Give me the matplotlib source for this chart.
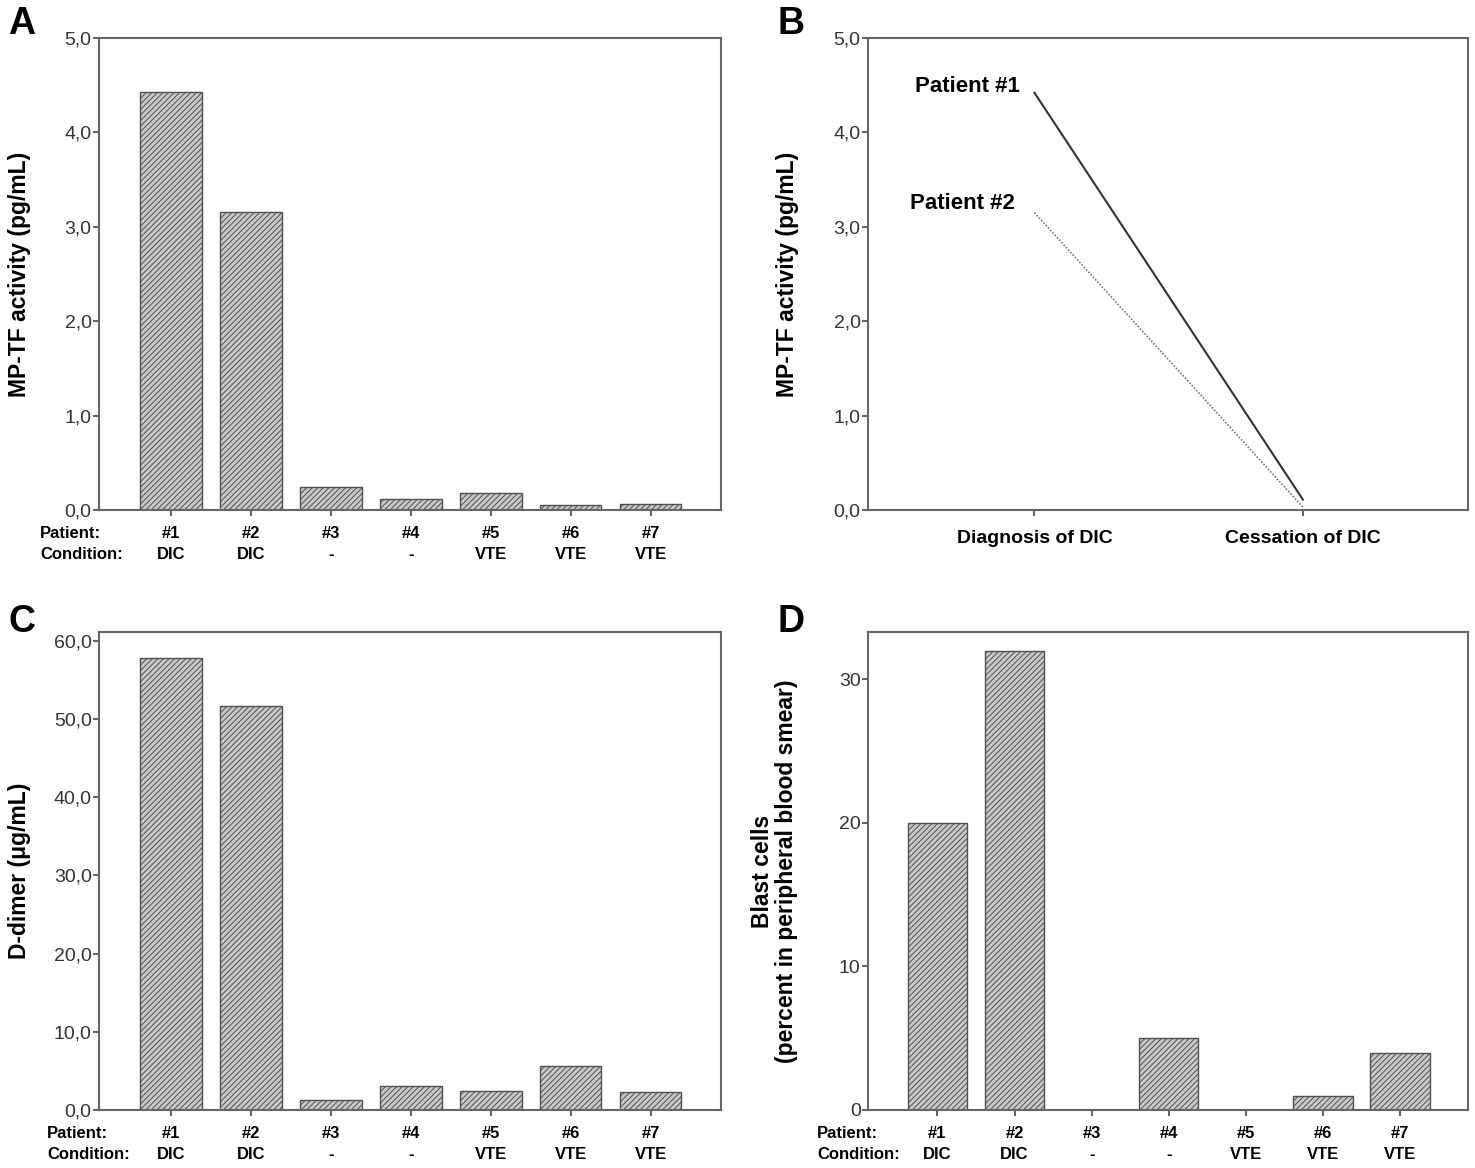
import matplotlib
matplotlib.use("Agg")
import matplotlib.pyplot as plt
from matplotlib.ticker import FuncFormatter

plt.rcParams['font.family'] = ['Liberation Sans', 'DejaVu Sans']
plt.rcParams['hatch.linewidth'] = 0.7

# data
patients = ['#1', '#2', '#3', '#4', '#5', '#6', '#7']
conditions = ['DIC', 'DIC', '-', '-', 'VTE', 'VTE', 'VTE']
mptf = [4.43, 3.16, 0.24, 0.12, 0.18, 0.05, 0.06]
ddimer = [57.8, 51.7, 1.3, 3.1, 2.4, 5.6, 2.3]
blasts = [20.0, 32.0, 0.0, 5.0, 0.0, 1.0, 4.0]
timepoints = ['Diagnosis of DIC', 'Cessation of DIC']
patient1_course = [4.42, 0.11]
patient2_course = [3.15, 0.03]

spine_col = '#666666'
tick_col = '#333333'
bar_face = '#c8c8c8'
bar_edge = '#505050'

fig = plt.figure(figsize=(14.75, 11.68), dpi=100)
W, H = 1475, 1168


def px_axes(l, t, r, b):
    return fig.add_axes([l / W, (H - b) / H, (r - l) / W, (b - t) / H])


axA = px_axes(99, 38, 721, 510)
axB = px_axes(868, 38, 1468, 510)
axC = px_axes(99, 632, 721, 1110)
axD = px_axes(868, 632, 1468, 1110)


def style(ax):
    for s in ax.spines.values():
        s.set_color(spine_col)
        s.set_linewidth(1.5)
    ax.tick_params(axis='both', direction='out', length=4.3, width=1.5, color=spine_col)
    ax.tick_params(axis='y', labelsize=14, labelcolor=tick_col, pad=1)


comma1 = FuncFormatter(lambda v, p: f"{v:.1f}".replace('.', ','))


def bar_panel(ax, values, head_dx):
    x = range(len(values))
    ax.bar(x, values, width=0.77, color=bar_face, edgecolor=bar_edge,
           linewidth=1.0, hatch='//////')
    ax.set_xticks(list(x))
    ax.set_xticklabels([f"{p}\n{c}" for p, c in zip(patients, conditions)],
                       fontsize=12, fontweight='bold', linespacing=1.5)
    ax.set_xlim(-0.9, 6.88)
    style(ax)
    ax.tick_params(axis='x', pad=7)
    ax.annotate("Patient:\nCondition:", xy=(0, 0), xycoords='axes fraction',
                xytext=(head_dx, -15.7), textcoords='offset pixels',
                ha='left', va='top', fontsize=12, fontweight='bold',
                linespacing=1.5)


# A
bar_panel(axA, mptf, -59)
axA.set_ylim(0, 5)
axA.set_yticks([0, 1, 2, 3, 4, 5])
axA.yaxis.set_major_formatter(comma1)
axA.set_ylabel("MP-TF activity (pg/mL)", fontsize=16.5, fontweight='bold')
axA.yaxis.set_label_coords(-0.109, 0.5)

# B
xb = range(len(timepoints))
axB.plot(xb, patient1_course, color='#333333', lw=1.5)
axB.plot(xb, patient2_course, color='#777777', lw=1.2, ls=(0, (1, 1)))
axB.annotate("Patient #1", xy=(0, patient1_course[0]), xytext=(-15, 6),
             textcoords='offset pixels', ha='right', va='center',
             fontsize=16, fontweight='bold')
axB.annotate("Patient #2", xy=(0, patient2_course[0]), xytext=(-20, 9),
             textcoords='offset pixels', ha='right', va='center',
             fontsize=16, fontweight='bold')
axB.set_xlim(-0.62, 1.615)
axB.set_ylim(0, 5)
axB.set_xticks(list(xb))
axB.set_xticklabels(timepoints, fontsize=14, fontweight='bold')
axB.set_yticks([0, 1, 2, 3, 4, 5])
axB.yaxis.set_major_formatter(comma1)
axB.set_ylabel("MP-TF activity (pg/mL)", fontsize=16.5, fontweight='bold')
axB.yaxis.set_label_coords(-0.115, 0.5)
style(axB)
axB.tick_params(axis='x', pad=10)

# C
bar_panel(axC, ddimer, -52)
axC.set_ylim(0, 61.1)
axC.set_yticks([0, 10, 20, 30, 40, 50, 60])
axC.yaxis.set_major_formatter(comma1)
axC.set_ylabel("D-dimer (\u03bcg/mL)", fontsize=16.5, fontweight='bold')
axC.yaxis.set_label_coords(-0.109, 0.5)

# D
bar_panel(axD, blasts, -51)
axD.set_ylim(0, 33.3)
axD.set_yticks([0, 10, 20, 30])
axD.set_ylabel("Blast cells\n(percent in peripheral blood smear)",
               fontsize=16.5, fontweight='bold', linespacing=1.05)
axD.yaxis.set_label_coords(-0.117, 0.5)

for lab, x, y in [("A", 8, 6), ("B", 778, 6), ("C", 8, 604), ("D", 778, 604)]:
    fig.text(x / W, 1 - y / H, lab, fontsize=27, fontweight='bold',
             ha='left', va='top')

fig.savefig("out.png", dpi=100)
